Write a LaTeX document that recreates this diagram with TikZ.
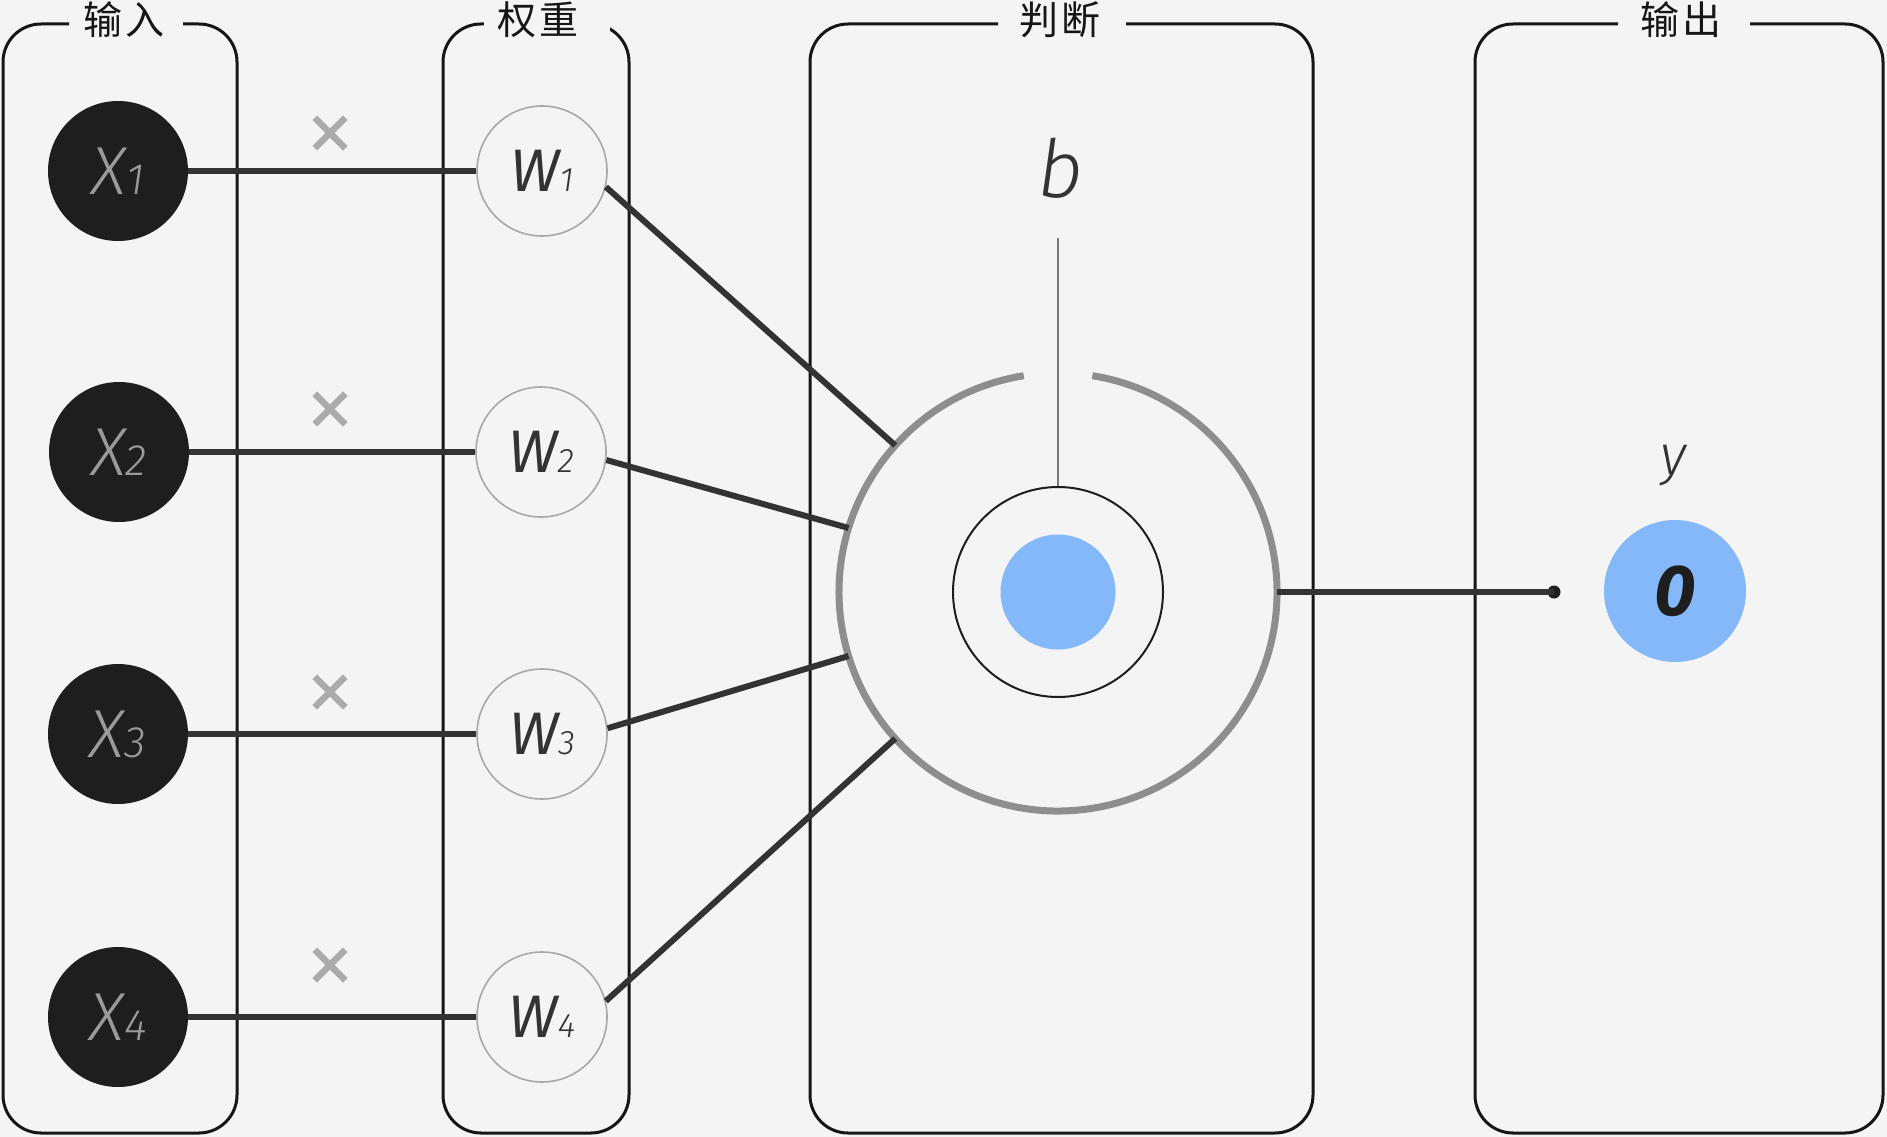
\documentclass[tikz,border=0pt]{standalone}
\usepackage{fontspec}
\setmainfont{Fira Sans}
\newfontfamily\lightf{Fira Sans Light}
\newfontfamily\cjk{Noto Sans CJK SC}
\usetikzlibrary{shapes.misc}
\definecolor{bg}{HTML}{F4F4F4}
\definecolor{xdark}{HTML}{1E1E1E}
\definecolor{xtext}{HTML}{9A9A9A}
\definecolor{wring}{HTML}{A8A8A8}
\definecolor{wtext}{HTML}{333333}
\definecolor{conn}{HTML}{333333}
\definecolor{boxc}{HTML}{161616}
\definecolor{ringc}{HTML}{8E8E8E}
\definecolor{bluec}{HTML}{85B8F8}
\definecolor{crossc}{HTML}{ABABAB}
\newcommand{\xlab}[1]{{\lightf\fontsize{68}{68}\selectfont\itshape X}{\lightf\fontsize{44}{44}\selectfont\itshape #1}}
\newcommand{\wlab}[1]{{\fontsize{60}{60}\selectfont\itshape W}{\lightf\fontsize{34}{34}\selectfont\itshape #1}}
\begin{document}
\begin{tikzpicture}[x=1pt,y=-1pt,
  xnode/.style={circle,fill=xdark,minimum size=140,inner sep=0,text=xtext},
  wnode/.style={circle,draw=wring,line width=1.6,fill=bg,minimum size=130,inner sep=0,text=wtext},
  wire/.style={draw=conn,line width=6},
  boxline/.style={draw=boxc,line width=3,rounded corners=38},
  title/.style={font=\cjk\fontsize{39}{40}\selectfont,text=boxc,inner sep=0},
  crossmark/.style={cross out,draw=crossc,line width=6.5,minimum size=24,inner sep=0},
]
\useasboundingbox[fill=bg] (0,0) rectangle (1887,1137);

% boxes
\draw[boxline] (183,24) -- (237,24) -- (237,1133) -- (3,1133) -- (3,24) -- (69,24);
\draw[boxline] (443,24) rectangle (629,1133);
\fill[bg] (484,8) rectangle (610,42);
\draw[boxline] (1126,24) -- (1313,24) -- (1313,1133) -- (810,1133) -- (810,24) -- (998,24);
\draw[boxline] (1750,24) -- (1883,24) -- (1883,1133) -- (1475,1133) -- (1475,24) -- (1618,24);

\node[title] (t1) at (124,20) {输\hspace{4pt}入};
\node[title] (t2) at (538,20) {权\hspace{4pt}重};
\node[title] (t3) at (1060,20) {判\hspace{4pt}断};
\node[title] (t4) at (1681,20) {输\hspace{4pt}出};

% inputs and weights
\node[xnode] (x1) at (118,171) {\xlab{1}};
\node[xnode] (x2) at (119,452) {\xlab{2}};
\node[xnode] (x3) at (118,734) {\xlab{3}};
\node[xnode] (x4) at (118,1017) {\xlab{4}};

\node[crossmark] (c1) at (330,133) {};
\node[crossmark] (c2) at (330,409) {};
\node[crossmark] (c3) at (330,692) {};
\node[crossmark] (c4) at (330,965) {};

\node[wnode] (w1) at (542,171) {\wlab{1}};
\node[wnode] (w2) at (541,452) {\wlab{2}};
\node[wnode] (w3) at (542,734) {\wlab{3}};
\node[wnode] (w4) at (542,1017) {\wlab{4}};

\draw[wire] (x1) -- (w1);
\draw[wire] (x2) -- (w2);
\draw[wire] (x3) -- (w3);
\draw[wire] (x4) -- (w4);

% judgement
\node[circle,minimum size=438,inner sep=0,outer sep=0] (judge) at (1058,592) {};
\draw[draw=ringc,line width=7] (judge.99) arc[start angle=-99,end angle=-441,radius=219];
\node[circle,draw=xdark,line width=2,minimum size=210,inner sep=0] (core) at (1058,592) {};
\node[circle,fill=bluec,minimum size=115,inner sep=0] (bdot) at (1058,592) {};
\node[text=wtext,inner sep=0] (b) at (1060,168) {\lightf\fontsize{80}{80}\selectfont\itshape b};
\coordinate (btop) at (1058,238);
\draw[draw=ringc!85!black,line width=1.8] (btop) -- (core.north);

\draw[wire] (w1.-14) -- (judge.138);
\draw[wire] (w2.-7) -- (judge.163);
\draw[wire] (w3.5) -- (judge.197);
\draw[wire] (w4.14) -- (judge.222);

% output
\node[circle,fill=xdark,minimum size=13,inner sep=0] (dot) at (1554,592) {};
\draw[wire] (judge.east) -- (dot.center);
\node[circle,fill=bluec,minimum size=142,inner sep=0,text=xdark] (out) at (1675,591)
  {\fontsize{72}{72}\selectfont\bfseries\itshape 0};
\node[text=wtext,inner sep=0] (ylab) at (1673,466) {\lightf\fontsize{56}{56}\selectfont\itshape y};
\end{tikzpicture}
\end{document}
